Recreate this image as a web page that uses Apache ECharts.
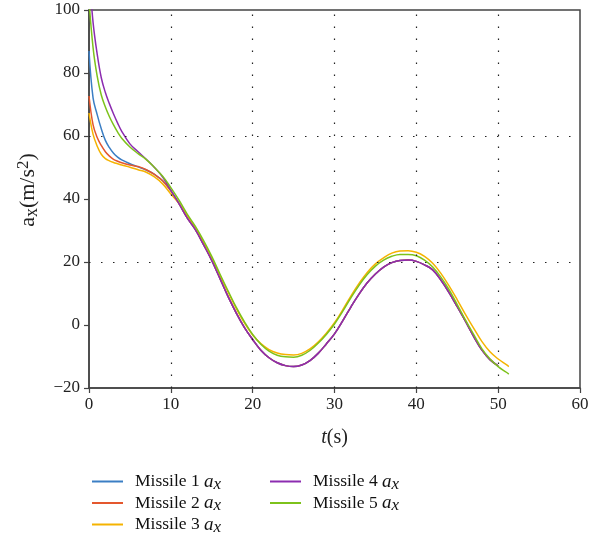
<!DOCTYPE html>
<html>
<head>
<meta charset="utf-8">
<script src="https://cdn.jsdelivr.net/npm/echarts@6/dist/echarts.min.js"></script>
<style>html,body{margin:0;padding:0;background:#fff}#c{width:600px;height:538px}</style>
</head>
<body>
<div id="c"></div>
<script>
var times = [0,0.5,1,1.5,2,2.5,3,3.5,4,5,6,7,8,9,10,11,12,13,14,15,16,17,18,19,20,21,22,23,24,25,26,27,28,29,30,31,32,33,34,35,36,37,38,39,40,41,42,43,44,45,46,47,48,49,50,51,51.3];

var missile4 = [112,96,86,78.5,73.8,70.2,67,64.1,61.5,57.5,55,52.6,50,47,42.8,38.5,34,30.3,25.5,20.5,14.8,9,3.8,-0.8,-4.6,-8,-10.4,-12,-12.9,-13.2,-12.7,-11.3,-9,-6,-2.8,1.3,5.7,9.8,13.4,16.2,18.4,19.8,20.5,20.6,20.2,19.1,17.5,14.3,10.3,5.8,1.2,-3.6,-7.9,-11,-13,null,null];
var missile1 = [87,72,66.8,62.3,58.6,56.3,54.5,53.3,52.4,51.2,50.2,49.2,47.8,45.8,42.6,38.5,34,30.3,25.5,20.5,14.8,9,3.8,-0.8,-4.6,-8,-10.4,-12,-12.9,-13.2,-12.7,-11.3,-9,-6,-2.8,1.3,5.7,9.8,13.4,16.2,18.4,19.8,20.5,20.6,20.2,19.1,17.5,14.3,10.3,5.8,1.2,-3.6,-7.9,-11,-13,null,null];
var missile2 = [72.7,63.5,59.5,57,55,53.6,52.6,52,51.5,50.8,50.3,49.3,47.8,45.8,42.6,38.5,34,30.3,25.5,20.5,14.8,9,3.8,-0.8,-4.6,-8,-10.4,-12,-12.9,-13.2,-12.7,-11.3,-9,-6,-2.8,1.3,5.7,9.8,13.4,16.2,18.4,19.8,20.5,20.6,20.2,19.1,17.5,14.3,10.3,5.8,1.2,-3.6,-7.9,-11,-13,null,null];
var missile3 = [67.3,60.5,56.8,54.2,52.8,52.1,51.6,51.2,50.8,50.1,49.3,48.5,47,44.8,41.6,38.6,34.8,30.8,26.2,21.2,15.8,10.4,5.2,0.6,-3.2,-5.9,-7.8,-8.9,-9.4,-9.5,-9,-7.6,-5.4,-2.6,0.7,4.8,9.2,13.2,16.7,19.4,21.3,22.8,23.5,23.6,23.1,21.8,19.6,16.4,12.4,8,3.4,-1,-5.2,-8.5,-10.8,-12.6,-13.2];
var missile5 = [103,88,79,73,69.2,66.1,63.5,61.2,59.3,56.5,54.4,52.5,50,47.2,43.6,39.6,35.2,31.3,26.8,21.8,16.2,10.8,5.6,1,-3,-6.1,-8.3,-9.6,-10.1,-10.2,-9.6,-8.1,-5.8,-3,0.3,4.3,8.6,12.6,16,18.7,20.6,21.8,22.4,22.4,22,20.6,18.4,15.2,11.2,6.5,1.6,-3,-7.5,-10.8,-13.2,-15,-15.6];

var xTicks = [0,10,20,30,40,50,60];
var yTicks = [-20,0,20,40,60,80,100];
var gridX = [10,20,30,40,50];
var gridY = [20,60];

var names = ['Missile 1','Missile 2','Missile 3','Missile 4','Missile 5'];
var colors = ['#3b7ec4','#e4572e','#f5b300','#8c2cb0','#7dc21b'];
var values = [missile1,missile2,missile3,missile4,missile5];

var serif = "'Liberation Serif','DejaVu Serif',serif";

function pairs(v){ var out=[]; for (var i=0;i<times.length;i++){ out.push([times[i], v[i]]); } return out; }

var series = values.map(function(v,i){
  var s = {
    name: names[i], type:'line', data: pairs(v), smooth:0.4, showSymbol:false, symbol:'none',
    lineStyle:{color:colors[i], width:1.5}, itemStyle:{color:colors[i]}, clip:true, connectNulls:false
  };
  if (i===0){
    s.markLine = {
      silent:true, symbol:'none', animation:false,
      label:{show:false},
      lineStyle:{color:'#222', type:[1.5,10.5], width:1.2},
      data: gridX.map(function(x){return {xAxis:x};}).concat(gridY.map(function(y){return {yAxis:y};}))
    };
  }
  return s;
});

var legendText = {
  fontFamily: serif, fontSize: 17.5, color:'#111', padding:[0,0,0,7],
  rich: {
    i:{fontFamily:serif, fontStyle:'italic', fontSize:19, color:'#111'},
    s:{fontFamily:serif, fontStyle:'italic', fontSize:17, color:'#111', verticalAlign:'bottom', padding:[6,0,0,0]}
  }
};
function legendFmt(n){ return n + ' {i|a}{s|x}'; }

var chart = echarts.init(document.getElementById('c'));
chart.setOption({
  animation:false,
  backgroundColor:'#fff',
  color: colors,
  grid:{left:89, right:20, top:10, bottom:150, show:true, borderColor:'#444', borderWidth:1.5, backgroundColor:'transparent'},
  xAxis:{
    type:'value', min:xTicks[0], max:xTicks[xTicks.length-1], interval:10,
    axisLine:{show:true, onZero:false, lineStyle:{color:'#444', width:1.5}},
    axisTick:{show:true, length:5, lineStyle:{color:'#444', width:1.2}},
    splitLine:{show:false},
    axisLabel:{fontFamily:serif, fontSize:17, color:'#222', margin:8},
    name:'{i|t}(s)', nameLocation:'middle', nameGap:40,
    nameTextStyle:{fontFamily:serif, fontSize:20, color:'#222', rich:{i:{fontFamily:serif, fontStyle:'italic', fontSize:20, color:'#222'}}}
  },
  yAxis:{
    type:'value', min:yTicks[0], max:yTicks[yTicks.length-1], interval:20,
    axisLine:{show:true, onZero:false, lineStyle:{color:'#444', width:1.5}},
    axisTick:{show:true, length:5, lineStyle:{color:'#444', width:1.2}},
    splitLine:{show:false},
    axisLabel:{fontFamily:serif, fontSize:17, color:'#222', margin:9, formatter:function(v){return v<0 ? '\u2212'+Math.abs(v) : String(v);}},
    name:'a{s|x}(m/s{p|2})', nameLocation:'middle', nameGap:48, nameRotate:90,
    nameTextStyle:{fontFamily:serif, fontSize:22, color:'#222', padding:[0,0,0,18],
      rich:{
        s:{fontFamily:serif, fontSize:18, color:'#222', verticalAlign:'bottom', padding:[7,0,0,0]},
        p:{fontFamily:serif, fontSize:17, color:'#222', verticalAlign:'top', padding:[0,0,9,0]}
      }}
  },
  legend:[
    {data:names.slice(0,3), orient:'vertical', left:92, top:472, height:70, padding:0, itemWidth:31, itemHeight:2, icon:'rect', itemGap:0.5,
     textStyle:legendText, formatter:legendFmt, selectedMode:false},
    {data:names.slice(3), orient:'vertical', left:270, top:472, height:70, padding:0, itemWidth:31, itemHeight:2, icon:'rect', itemGap:0.5,
     textStyle:legendText, formatter:legendFmt, selectedMode:false}
  ],
  series: series
});
</script>
</body>
</html>
